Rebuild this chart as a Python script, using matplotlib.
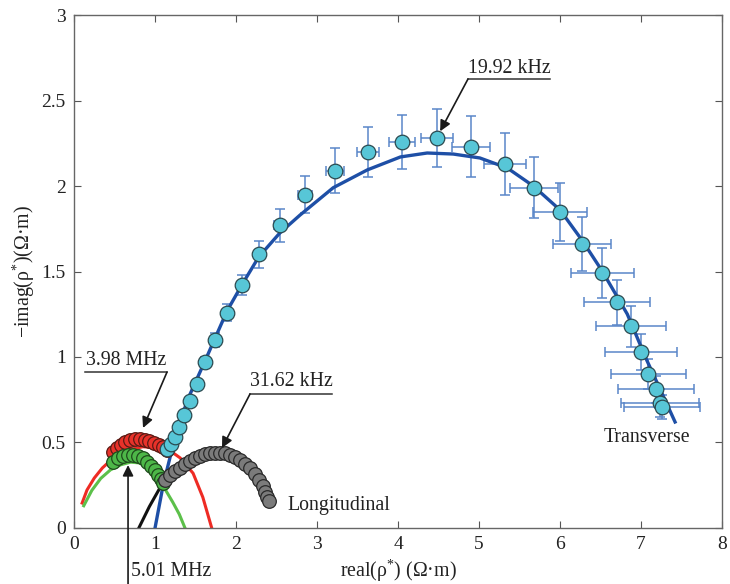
import matplotlib
matplotlib.use("Agg")
import matplotlib.pyplot as plt

plt.rcParams["font.family"] = ["Liberation Serif", "DejaVu Serif"]
plt.rcParams["mathtext.fontset"] = "custom"
plt.rcParams["mathtext.rm"] = "Liberation Serif"
plt.rcParams["mathtext.it"] = "Liberation Serif:italic"

# transverse measurement (cyan) with error bars
trans_x = [1.15, 1.20, 1.25, 1.30, 1.36, 1.43, 1.52, 1.62, 1.74, 1.89, 2.07, 2.28, 2.54,
           2.85, 3.22, 3.63, 4.05, 4.48, 4.90, 5.32, 5.68, 6.00, 6.27, 6.52, 6.70, 6.88,
           7.00, 7.09, 7.18, 7.23, 7.26]
trans_y = [0.46, 0.49, 0.53, 0.59, 0.66, 0.74, 0.84, 0.97, 1.10, 1.26, 1.42, 1.60, 1.77,
           1.95, 2.09, 2.20, 2.26, 2.28, 2.23, 2.13, 1.99, 1.85, 1.66, 1.49, 1.32, 1.18,
           1.03, 0.90, 0.81, 0.73, 0.71]
trans_xerr = [0.01, 0.01, 0.01, 0.015, 0.015, 0.02, 0.02, 0.025, 0.03, 0.035, 0.04, 0.05,
              0.07, 0.09, 0.11, 0.14, 0.165, 0.20, 0.23, 0.26, 0.30, 0.33, 0.36, 0.39, 0.41,
              0.43, 0.45, 0.46, 0.47, 0.48, 0.47]
trans_yerr = [0.01, 0.01, 0.012, 0.015, 0.015, 0.02, 0.025, 0.03, 0.04, 0.05, 0.06, 0.08,
              0.098, 0.11, 0.13, 0.146, 0.158, 0.17, 0.18, 0.18, 0.177, 0.17, 0.156, 0.146,
              0.13, 0.12, 0.105, 0.088, 0.077, 0.08, 0.07]

# transverse fit (blue line)
trans_fit_x = [1.00, 1.10, 1.21, 1.31, 1.43, 1.62, 1.89, 2.07, 2.28, 2.54, 2.79, 3.20,
               3.62, 4.03, 4.36, 4.68, 5.01, 5.35, 5.67, 6.00, 6.27, 6.52, 6.83, 7.07,
               7.24, 7.42]
trans_fit_y = [0.0, 0.25, 0.46, 0.63, 0.78, 0.98, 1.27, 1.42, 1.585, 1.725, 1.83, 1.99,
               2.094, 2.17, 2.193, 2.187, 2.164, 2.105, 2.00, 1.86, 1.684, 1.503, 1.251,
               0.982, 0.807, 0.62]

# red circles (3.98 MHz) and red fit
red_x = [0.48, 0.53, 0.58, 0.63, 0.69, 0.75, 0.81, 0.88, 0.93, 0.99, 1.05, 1.10, 1.15]
red_y = [0.444, 0.468, 0.485, 0.503, 0.515, 0.52, 0.52, 0.515, 0.509, 0.497, 0.485, 0.474,
         0.456]
red_fit_x = [0.10, 0.16, 0.25, 0.35, 0.43, 0.55, 0.70, 0.85, 1.00, 1.15, 1.23, 1.31, 1.40,
             1.47, 1.59, 1.70]
red_fit_y = [0.146, 0.222, 0.292, 0.351, 0.386, 0.43, 0.46, 0.475, 0.47, 0.452, 0.437,
             0.41, 0.36, 0.32, 0.18, 0.0]

# green circles (5.01 MHz) and green fit
green_x = [0.48, 0.54, 0.61, 0.67, 0.73, 0.79, 0.85, 0.90, 0.95, 1.00, 1.04, 1.07, 1.10]
green_y = [0.386, 0.409, 0.421, 0.427, 0.427, 0.421, 0.409, 0.386, 0.363, 0.339, 0.31,
           0.287, 0.263]
green_fit_x = [0.12, 0.22, 0.33, 0.45, 0.58, 0.70, 0.82, 0.93, 1.03, 1.12, 1.22, 1.30, 1.37]
green_fit_y = [0.13, 0.22, 0.29, 0.34, 0.37, 0.385, 0.38, 0.35, 0.30, 0.23, 0.15, 0.08, 0.0]

# longitudinal measurement (gray) and its fit (black)
long_x = [1.12, 1.19, 1.25, 1.31, 1.37, 1.43, 1.49, 1.56, 1.62, 1.68, 1.74, 1.80, 1.86,
          1.93, 1.99, 2.05, 2.11, 2.17, 2.24, 2.28, 2.33, 2.36, 2.38, 2.41]
long_y = [0.281, 0.310, 0.333, 0.351, 0.374, 0.392, 0.409, 0.421, 0.433, 0.439, 0.439,
          0.439, 0.439, 0.427, 0.415, 0.398, 0.374, 0.351, 0.316, 0.281, 0.246, 0.211,
          0.181, 0.158]
long_xerr = [0, 0, 0, 0, 0, 0, 0, 0, 0, 0, 0, 0, 0, 0, 0, 0, 0, 0, 0.04, 0.05, 0.06, 0.07,
             0.08, 0.08]
long_fit_x = [0.80, 0.93, 1.06, 1.20, 1.40, 1.60, 1.80, 2.00, 2.20, 2.35]
long_fit_y = [0.0, 0.125, 0.234, 0.31, 0.38, 0.42, 0.425, 0.39, 0.30, 0.18]

fig = plt.figure(figsize=(7.3, 5.84), dpi=100)
ax = fig.add_axes([0.1014, 0.0959, 0.8877, 0.8784])

ax.plot(red_fit_x, red_fit_y, color="#ee2b24", lw=2.2, zorder=2)
ax.plot(green_fit_x, green_fit_y, color="#5cc04a", lw=2.2, zorder=2)
ax.plot(long_fit_x, long_fit_y, color="#111111", lw=2.2, zorder=2)
ax.plot(trans_fit_x, trans_fit_y, color="#1e4fa6", lw=2.4, zorder=2.6)

ax.errorbar(trans_x, trans_y, xerr=trans_xerr, yerr=trans_yerr, fmt="none",
            ecolor="#5a86c9", elinewidth=1.1, capsize=3.5, capthick=1.1, zorder=2.5)
ax.errorbar(long_x, long_y, xerr=long_xerr, fmt="none", ecolor="#4a7fd0",
            elinewidth=1.0, capsize=0, zorder=2.5)

ax.plot(red_x, red_y, "o", ms=9.8, mfc="#e8322a", mec="#5a1a14", mew=0.9, zorder=3)
ax.plot(green_x, green_y, "o", ms=9.8, mfc="#4db748", mec="#1f4a1c", mew=0.9, zorder=3)
ax.plot(long_x, long_y, "o", ms=9.8, mfc="#7b7b7b", mec="#2a2a2a", mew=0.9, zorder=3)
ax.plot(trans_x, trans_y, "o", ms=10.5, mfc="#57c6d7", mec="#2b4a50", mew=0.9, zorder=3.2)

fs = 14.3
arrow = dict(arrowstyle="-|>", color="#1a1a1a", lw=1.2, mutation_scale=16,
             shrinkA=0, shrinkB=0)

# 19.92 kHz
ax.plot([4.864, 5.877], [2.626, 2.626], color="#333333", lw=1.1, clip_on=False)
ax.text(5.37, 2.69, "19.92 kHz", fontsize=fs, ha="center", va="center", color="#222222")
ax.annotate("", xy=(4.52, 2.32), xytext=(4.864, 2.626), arrowprops=arrow)

# 3.98 MHz
ax.plot([0.136, 1.148], [0.912, 0.912], color="#333333", lw=1.1, clip_on=False)
ax.text(0.642, 0.982, "3.98 MHz", fontsize=fs, ha="center", va="center", color="#222222")
ax.annotate("", xy=(0.852, 0.585), xytext=(1.148, 0.912), arrowprops=arrow)

# 31.62 kHz
ax.plot([2.173, 3.185], [0.784, 0.784], color="#333333", lw=1.1, clip_on=False)
ax.text(2.679, 0.854, "31.62 kHz", fontsize=fs, ha="center", va="center", color="#222222")
ax.annotate("", xy=(1.827, 0.468), xytext=(2.173, 0.784), arrowprops=arrow)

# 5.01 MHz (below the axis, near the figure edge)
ax.annotate("", xy=(0.667, 0.368), xytext=(0.667, -0.40), arrowprops=arrow,
            annotation_clip=False)
ax.text(0.70, -0.200, "5.01 MHz", fontsize=fs, ha="left", va="top", color="#222222",
        clip_on=False)

ax.text(2.63, 0.129, "Longitudinal", fontsize=fs, ha="left", va="center", color="#222222")
ax.text(6.543, 0.532, "Transverse", fontsize=fs, ha="left", va="center", color="#222222")

ax.set_xlim(0, 8)
ax.set_ylim(0, 3)
ax.set_xticks(range(0, 9))
ax.set_xticklabels([str(v) for v in range(0, 9)])
ax.set_yticks([0, 0.5, 1, 1.5, 2, 2.5, 3])
ax.set_yticklabels(["0", "0.5", "1", "1.5", "2", "2.5", "3"])
ax.tick_params(direction="in", top=True, right=True, length=5, width=0.8,
               color="#555555", labelsize=14, labelcolor="#222222", pad=6)
for spine in ax.spines.values():
    spine.set_color("#666666")
    spine.set_linewidth(1.0)

ax.set_xlabel(r"real($\mathrm{ρ}^{*}$) (Ω·m)", fontsize=fs, color="#222222", labelpad=3)
ax.set_ylabel(r"$-$imag($\mathrm{ρ}^{*}$)(Ω·m)", fontsize=fs, color="#222222", labelpad=3)

fig.savefig("out.png", dpi=100)
